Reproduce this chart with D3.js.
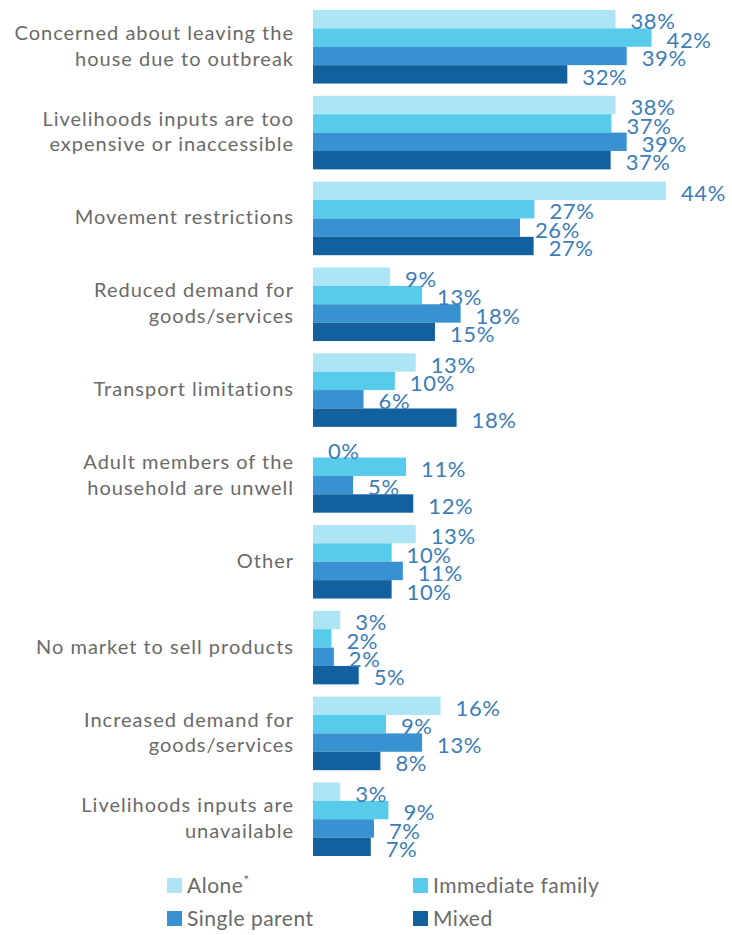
<!DOCTYPE html>
<html>
<head>
<meta charset="utf-8">
<script src="https://cdn.jsdelivr.net/npm/d3@7"></script>
<style>
    body { margin: 0; background: #fff; }
    svg { display: block; font-family: Lato, "Open Sans", sans-serif; }
</style>
</head>
<body>
<svg id="chart"></svg>
<script>
// data
const categories = [
    ["Concerned about leaving the", "house due to outbreak"],
    ["Livelihoods inputs are too", "expensive or inaccessible"],
    ["Movement restrictions"],
    ["Reduced demand for", "goods/services"],
    ["Transport limitations"],
    ["Adult members of the", "household are unwell"],
    ["Other"],
    ["No market to sell products"],
    ["Increased demand for", "goods/services"],
    ["Livelihoods inputs are", "unavailable"]
];
const seriesNames = ["Alone", "Immediate family", "Single parent", "Mixed"];

// bar lengths (%)
const alone = [37.7, 37.7, 44.0, 9.6, 12.8, 0, 12.8, 3.4, 15.9, 3.4];
const immediateFamily = [42.2, 37.2, 27.6, 13.6, 10.2, 11.6, 9.8, 2.3, 9.1, 9.4];
const singleParent = [39.1, 39.1, 25.8, 18.4, 6.3, 5.0, 11.2, 2.6, 13.6, 7.6];
const mixed = [31.7, 37.1, 27.5, 15.2, 17.9, 12.5, 9.8, 5.7, 8.4, 7.2];

// value labels as printed
const aloneLabels = ["38%", "38%", "44%", "9%", "13%", "0%", "13%", "3%", "16%", "3%"];
const immediateFamilyLabels = ["42%", "37%", "27%", "13%", "10%", "11%", "10%", "2%", "9%", "9%"];
const singleParentLabels = ["39%", "39%", "26%", "18%", "6%", "5%", "11%", "2%", "13%", "7%"];
const mixedLabels = ["32%", "37%", "27%", "15%", "18%", "12%", "10%", "5%", "8%", "7%"];

const colors = ["#aee5f5", "#56cbeb", "#3891d0", "#13609f"];

const series = [alone, immediateFamily, singleParent, mixed];
const labels = [aloneLabels, immediateFamilyLabels, singleParentLabels, mixedLabels];
const width = 732, height = 935;

const svg = d3.select("#chart").attr("width", width).attr("height", height);

const y = d3.scaleBand()
    .domain(d3.range(categories.length))
    .range([10, 856])
    .paddingInner(0.143)
    .paddingOuter(0);

const ySub = d3.scaleBand()
    .domain(d3.range(seriesNames.length))
    .range([0, y.bandwidth()])
    .padding(0);

const x = d3.scaleLinear().domain([0, 44]).range([313, 666]);

const groups = svg.append("g").selectAll("g")
    .data(categories)
    .join("g")
    .attr("transform", (d, i) => `translate(0,${y(i)})`);

// bars
groups.each(function (d, i) {
    const g = d3.select(this);
    series.forEach((vals, s) => {
        g.append("rect")
            .attr("x", x(0))
            .attr("y", ySub(s))
            .attr("width", x(vals[i]) - x(0))
            .attr("height", ySub.bandwidth())
            .attr("fill", colors[s]);
    });
});

// value labels
groups.each(function (d, i) {
    const g = d3.select(this);
    series.forEach((vals, s) => {
        g.append("text")
            .attr("x", x(vals[i]) + 15)
            .attr("y", ySub(s) + ySub.bandwidth() + 1)
            .attr("fill", "#3b7db8")
            .attr("font-size", 22)
            .attr("letter-spacing", 0.6)
            .text(labels[s][i]);
    });
});

// category labels
groups.each(function (lines) {
    const g = d3.select(this);
    const lh = 25.5;
    const cy = y.bandwidth() / 2;
    lines.forEach((line, k) => {
        g.append("text")
            .attr("x", 294)
            .attr("y", cy + (k - (lines.length - 1) / 2) * lh + 6)
            .attr("text-anchor", "end")
            .attr("fill", "#6a6a6a")
            .attr("font-size", 20)
            .attr("letter-spacing", 1)
            .text(line);
    });
});

// legend
const legendPos = [[167, 878], [413, 878], [167, 911], [413, 911]];
const legend = svg.append("g").selectAll("g")
    .data(seriesNames)
    .join("g")
    .attr("transform", (d, i) => `translate(${legendPos[i][0]},${legendPos[i][1]})`);

legend.append("rect")
    .attr("width", 15)
    .attr("height", 15)
    .attr("fill", (d, i) => colors[i]);

const lt = legend.append("text")
    .attr("x", 20)
    .attr("y", 15)
    .attr("fill", "#6a6a6a")
    .attr("font-size", 21)
    .attr("letter-spacing", 0.5)
    .text(d => d);

lt.filter((d, i) => i === 0)
    .append("tspan")
    .attr("dy", -8)
    .attr("font-size", 14)
    .text("*");
</script>
</body>
</html>
